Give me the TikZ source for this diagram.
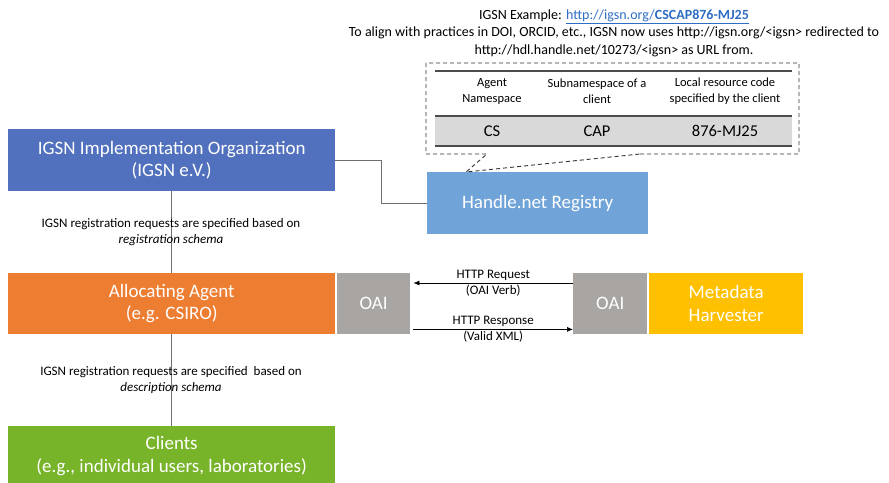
\documentclass[tikz,border=0pt]{standalone}
\usepackage{fontspec}
\setmainfont{Carlito}
\usetikzlibrary{positioning,arrows.meta,calc}
\definecolor{orgblue}{HTML}{5171BE}
\definecolor{handleblue}{HTML}{70A4D8}
\definecolor{agentorange}{HTML}{ED7D31}
\definecolor{oaigray}{HTML}{A9A5A3}
\definecolor{harvyellow}{HTML}{FFC000}
\definecolor{clientgreen}{HTML}{78B42A}
\definecolor{linegray}{HTML}{6F6F6F}
\definecolor{rowgray}{HTML}{D9D9D9}
\definecolor{linkblue}{HTML}{2E6DC4}
\tikzset{
  figbox/.style={anchor=north west, align=center, text=white, inner sep=0pt,
    font=\fontsize{19}{22.5}\selectfont},
  figlabel/.style={font=\fontsize{13}{15.5}\selectfont, align=center},
  tablabel/.style={font=\fontsize{12.5}{16}\selectfont, align=center},
  tabcell/.style={font=\fontsize{16.5}{18}\selectfont},
  figline/.style={draw=linegray, line width=1pt},
  figarrow/.style={-{Latex[length=6pt,width=5pt]}, line width=0.7pt},
  tabrule/.style={draw=black!70, line width=2pt},
}

\begin{document}
\begin{tikzpicture}[x=1pt,y=-1pt]
  \useasboundingbox (0,0) rectangle (889,482);
  % top note with the example
  \node[font=\fontsize{14}{17.5}\selectfont, align=center] (example) at (614,33)
    {IGSN Example: {\color{linkblue}\underline{http://igsn.org/\textbf{CSCAP876-MJ25}}}\\
     To align with practices in DOI, ORCID, etc., IGSN now uses http://igsn.org/<igsn> redirected to\\
     http://hdl.handle.net/10273/<igsn> as URL from.};
  % identifier table
  \fill[rowgray] (435,116) rectangle (792,146);
  \draw[tabrule, line width=1.5pt] (435,71) -- (792,71);
  \draw[tabrule] (435,116) -- (792,116);
  \draw[tabrule] (435,146) -- (792,146);
  \node[tablabel] (agentns) at (492,91) {Agent\\Namespace};
  \node[tablabel] (subns) at (597,91) {Subnamespace of a\\client};
  \node[tablabel] (localcode) at (725,91) {Local resource code\\specified by the client};
  \node[tabcell] (cs) at (492,131) {CS};
  \node[tabcell] (cap) at (597,131) {CAP};
  \node[tabcell] (code) at (725,131) {876-MJ25};

  % boxes
  \node[figbox, fill=orgblue, minimum width=327pt, minimum height=62pt] (org) at (8,129)
    {IGSN Implementation Organization\\(IGSN e.V.)};
  \node[figbox, fill=handleblue, minimum width=221pt, minimum height=62pt] (handle) at (427,172)
    {Handle.net Registry};
  \node[figbox, fill=agentorange, minimum width=327pt, minimum height=61pt] (agent) at (8,273)
    {Allocating Agent\\(e.g. CSIRO)};
  \node[figbox, fill=oaigray, minimum width=73pt, minimum height=61pt] (oail) at (337,273) {OAI};
  \node[figbox, fill=oaigray, minimum width=74pt, minimum height=61pt] (oair) at (573,273) {OAI};
  \node[figbox, fill=harvyellow, minimum width=154pt, minimum height=61pt] (harv) at (649,273)
    {Metadata\\Harvester};
  \node[figbox, fill=clientgreen, minimum width=327pt, minimum height=60pt] (clients) at (8,426)
    {Clients\\(e.g., individual users, laboratories)};

  % callout round the table
  \draw[draw=black!80, line width=0.9pt, dash pattern=on 4pt off 3pt] (640,154) -- (799,154) -- (799,63)
    -- (426,63) -- (426,154) -- (487,154) -- ([xshift=39pt]handle.north west) -- cycle;

  % connectors
  \draw[figline] (org.east) -- ++(46,0) |- (handle.west);
  \draw[figline] (org.south) -- (agent.north);
  \draw[figline] (agent.south) -- (clients.north);
  \node[figlabel] (regnote) at (171,232)
    {IGSN registration requests are specified based on\\\textit{registration schema}};
  \node[figlabel] (descnote) at (171,380)
    {IGSN registration requests are specified\ \ based on\\\textit{description schema}};

  % OAI-PMH exchange
  \draw[figarrow] ([yshift=-10pt]oair.north west) -- ([xshift=3pt,yshift=-10pt]oail.north east)
    node[midway, figlabel, above=-1pt] {HTTP Request}
    node[midway, figlabel, below=-2pt] {(OAI Verb)};
  \draw[figarrow] ([xshift=3pt,yshift=5pt]oail.south east) -- ([yshift=5pt]oair.south west)
    node[midway, figlabel, above=-1pt] {HTTP Response}
    node[midway, figlabel, below=-2pt] {(Valid XML)};
\end{tikzpicture}
\end{document}
